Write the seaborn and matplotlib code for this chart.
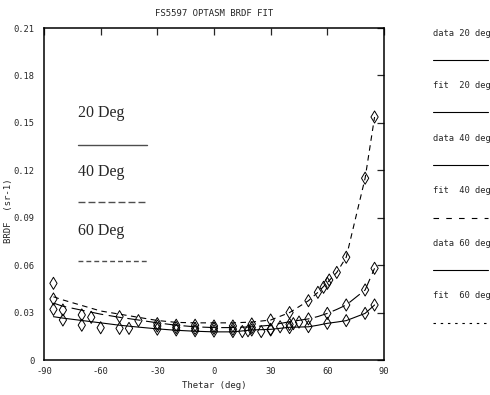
import numpy as np
import pandas as pd
import matplotlib
matplotlib.use('Agg')
import matplotlib.pyplot as plt
from matplotlib.lines import Line2D
import seaborn as sns

theta_20 = [-85, -80, -70, -60, -50, -45, -30, -20, -10, 0, 10, 18, 20, 25, 30, 40, 50, 60, 70, 80, 85]
brdf_20 = [0.032, 0.0253, 0.022, 0.0204, 0.020, 0.020, 0.0195, 0.019, 0.0185, 0.0183, 0.018, 0.0185,
           0.019, 0.018, 0.019, 0.0205, 0.0211, 0.0232, 0.0249, 0.0295, 0.0348]

theta_40 = [-85, -80, -70, -30, -20, -10, 0, 10, 15, 20, 30, 35, 40, 42, 45, 50, 60, 70, 80, 85]
brdf_40 = [0.0386, 0.0316, 0.0285, 0.0215, 0.0205, 0.020, 0.020, 0.0195, 0.018, 0.0205, 0.0194,
           0.021, 0.0225, 0.023, 0.024, 0.026, 0.0295, 0.0348, 0.0443, 0.058]

theta_60 = [-85, -65, -50, -40, -30, -20, -10, 0, 10, 20, 30, 40, 50, 55, 58, 60, 61, 65, 70, 80, 85]
brdf_60 = [0.0485, 0.027, 0.0274, 0.0249, 0.023, 0.022, 0.022, 0.0215, 0.0215, 0.0228, 0.0253,
           0.030, 0.0375, 0.0428, 0.046, 0.0485, 0.0506, 0.0554, 0.065, 0.115, 0.1537]

# fitted curves
fit_theta = [-85, -80, -70, -60, -50, -40, -30, -20, -10, 0, 10, 20, 30, 40, 50, 55, 60, 65, 70, 80, 85]
fit_20 = [0.0274, 0.0265, 0.025, 0.0235, 0.022, 0.0208, 0.0197, 0.0188, 0.0182, 0.0178, 0.0178,
          0.019, 0.0194, 0.0207, 0.021, 0.022, 0.0232, 0.024, 0.0249, 0.0295, 0.0348]
fit_40 = [0.036, 0.034, 0.0315, 0.029, 0.027, 0.0253, 0.0235, 0.022, 0.021, 0.0205, 0.0205,
          0.021, 0.022, 0.0242, 0.026, 0.0275, 0.0295, 0.032, 0.0348, 0.0443, 0.058]
fit_60 = [0.040, 0.038, 0.0345, 0.031, 0.029, 0.027, 0.025, 0.0238, 0.0235, 0.0235, 0.0235,
          0.024, 0.0253, 0.030, 0.0375, 0.0428, 0.049, 0.0554, 0.065, 0.115, 0.1537]

x_ticks = [-90, -60, -30, 0, 30, 60, 90]
y_ticks = [0, 0.03, 0.06, 0.09, 0.12, 0.15, 0.18, 0.21]
y_tick_labels = ['0', '0.03', '0.06', '0.09', '0.12', '0.15', '0.18', '0.21']

data = pd.concat([
    pd.DataFrame({'theta': theta_20, 'brdf': brdf_20, 'deg': '20'}),
    pd.DataFrame({'theta': theta_40, 'brdf': brdf_40, 'deg': '40'}),
    pd.DataFrame({'theta': theta_60, 'brdf': brdf_60, 'deg': '60'}),
])
fits = pd.concat([
    pd.DataFrame({'theta': fit_theta, 'brdf': fit_20, 'deg': '20'}),
    pd.DataFrame({'theta': fit_theta, 'brdf': fit_40, 'deg': '40'}),
    pd.DataFrame({'theta': fit_theta, 'brdf': fit_60, 'deg': '60'}),
])

sns.set_style('white')
plt.rcParams['font.family'] = ['DejaVu Sans Mono', 'DejaVu Sans']

fig = plt.figure(figsize=(4.9, 3.95), dpi=100)
ax = fig.add_axes([0.0898, 0.0886, 0.6939, 0.8405])

sns.lineplot(data=fits, x='theta', y='brdf', style='deg',
             dashes={'20': '', '40': (12, 5), '60': (5, 4)},
             color='black', linewidth=0.8, legend=False, ax=ax)
sns.scatterplot(data=data, x='theta', y='brdf', marker='d', s=38,
                facecolor='none', edgecolor='black', linewidth=0.7,
                legend=False, ax=ax)

ax.set_xlim(-90, 90)
ax.set_ylim(0, 0.21)
ax.set_xticks(x_ticks)
ax.set_xticklabels([str(t) for t in x_ticks])
ax.set_yticks(y_ticks)
ax.set_yticklabels(y_tick_labels)
ax.tick_params(direction='in', length=5, width=0.9, top=True, right=True,
               labelsize=6.3, pad=5)
ax.tick_params(axis='y', pad=7)
for sp in ax.spines.values():
    sp.set_color('black')
    sp.set_linewidth(1.1)

ax.set_xlabel('Thetar (deg)', fontsize=6.5)
ax.xaxis.set_label_coords(0.5, -0.063)
ax.set_ylabel('BRDF  (sr-1)', fontsize=6.5)
ax.yaxis.set_label_coords(-0.09, 0.45)
ax.text(0.5, 1.045, 'FS5597 OPTASM BRDF FIT', transform=ax.transAxes,
        ha='center', va='center', fontsize=6.5)

# legend drawn inside the plot
inner = [('20 Deg', 0.744, 0.6476, '-'), ('40 Deg', 0.566, 0.476, (0, (5, 2.2))),
         ('60 Deg', 0.389, 0.298, (0, (3.5, 2.2)))]
for label, ty, ly, ls in inner:
    ax.text(0.1, ty, label, transform=ax.transAxes, fontsize=11.5,
            family='Liberation Serif', va='center', ha='left')
    ax.plot([0.1, 0.303], [ly, ly], transform=ax.transAxes, color='0.3',
            linewidth=1.0, linestyle=ls)

# legend to the right of the plot
right = ['data 20 deg', 'fit  20 deg', 'data 40 deg', 'fit  40 deg', 'data 60 deg', 'fit  60 deg']
right_ls = ['-', '-', '-', (0, (5, 6.5)), '-', (0, (2.2, 4.3))]
for i, (label, ls) in enumerate(zip(right, right_ls)):
    ty = 33 + i * 52.6
    ly = ty + 26.8
    fig.text(433 / 490, 1 - ty / 395, label, fontsize=6.3, va='center', ha='left')
    fig.add_artist(Line2D([433 / 490, 488 / 490], [1 - ly / 395, 1 - ly / 395],
                          transform=fig.transFigure, color='black', linewidth=0.8,
                          linestyle=ls))

fig.savefig('out.png', dpi=100)
